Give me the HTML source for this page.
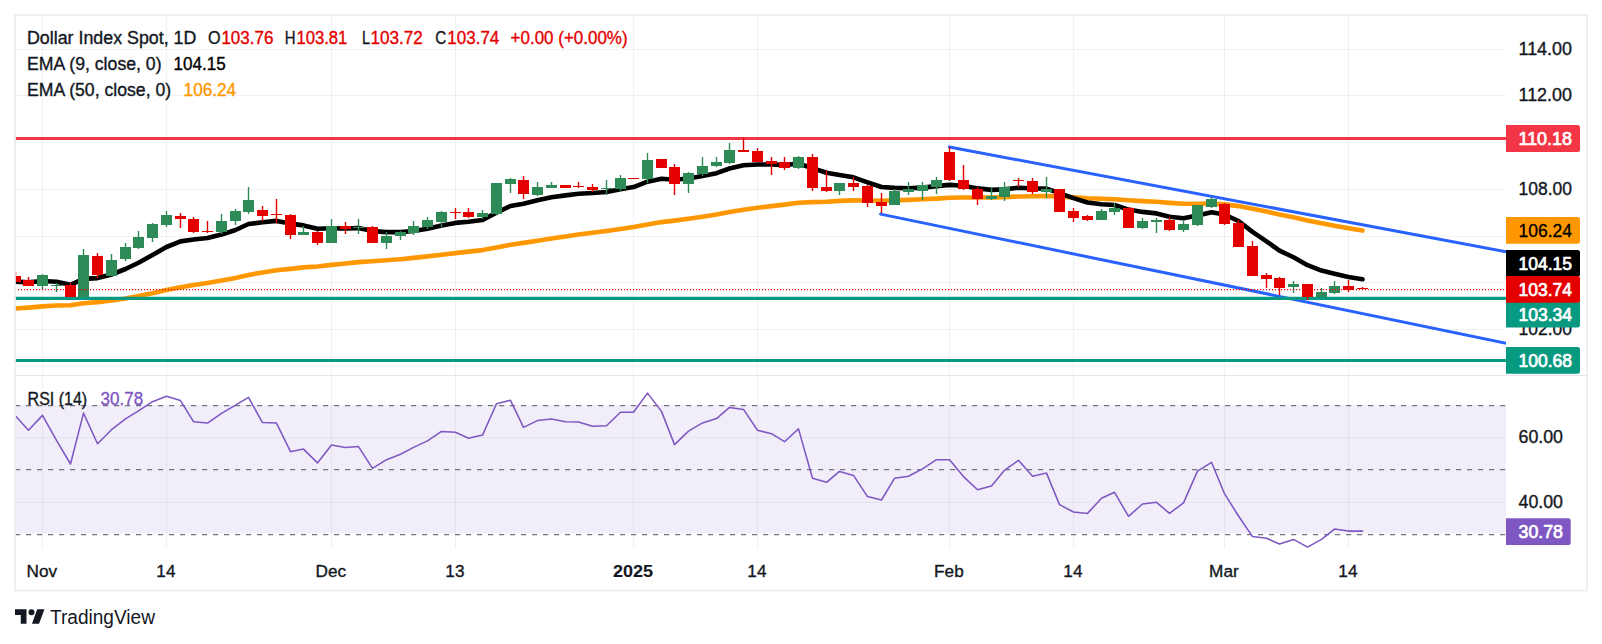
<!DOCTYPE html><html><head><meta charset="utf-8"><title>Dollar Index Spot</title>
<style>html,body{margin:0;padding:0;background:#fff}body{width:1602px;height:644px;overflow:hidden}svg{display:block}text{font-family:"Liberation Sans",sans-serif;font-size:17.5px;fill:#131722;stroke:#131722}.b{font-weight:bold}.lb{stroke-width:0.7px}text{stroke-width:0.35px;stroke-linejoin:round}</style></head><body>
<svg width="1602" height="644" viewBox="0 0 1602 644">
<defs><clipPath id="cp"><rect x="15" y="15" width="1491" height="533.5"/></clipPath><clipPath id="cp2"><rect x="15" y="15" width="1491" height="360"/></clipPath></defs>
<rect width="1602" height="644" fill="#fff"/>
<g stroke="#5a6e64" stroke-opacity="0.09" stroke-width="1">
<line x1="42.5" y1="15" x2="42.5" y2="548.5"/>
<line x1="166.5" y1="15" x2="166.5" y2="548.5"/>
<line x1="331.5" y1="15" x2="331.5" y2="548.5"/>
<line x1="455.5" y1="15" x2="455.5" y2="548.5"/>
<line x1="633.5" y1="15" x2="633.5" y2="548.5"/>
<line x1="757.5" y1="15" x2="757.5" y2="548.5"/>
<line x1="949.5" y1="15" x2="949.5" y2="548.5"/>
<line x1="1073.5" y1="15" x2="1073.5" y2="548.5"/>
<line x1="1224.5" y1="15" x2="1224.5" y2="548.5"/>
<line x1="1348.5" y1="15" x2="1348.5" y2="548.5"/>
<line x1="15" y1="49.5" x2="1506" y2="49.5"/>
<line x1="15" y1="95.5" x2="1506" y2="95.5"/>
<line x1="15" y1="142.5" x2="1506" y2="142.5"/>
<line x1="15" y1="189.5" x2="1506" y2="189.5"/>
<line x1="15" y1="236.5" x2="1506" y2="236.5"/>
<line x1="15" y1="282.5" x2="1506" y2="282.5"/>
<line x1="15" y1="329.5" x2="1506" y2="329.5"/>
<line x1="15" y1="437.5" x2="1506" y2="437.5"/>
<line x1="15" y1="502.5" x2="1506" y2="502.5"/>
</g>
<rect x="15" y="405" width="1491" height="128.6" fill="#7e57c2" fill-opacity="0.1"/>
<g stroke="#74767f" stroke-width="1.25" stroke-dasharray="5.2,5.8">
<line x1="15" y1="405.5" x2="1506" y2="405.5"/>
<line x1="15" y1="469.5" x2="1506" y2="469.5"/>
<line x1="15" y1="534.5" x2="1506" y2="534.5"/>
</g>
<g clip-path="url(#cp)">
<polyline points="1.5,309.6 15.5,308.5 28.5,307.6 42.5,306.4 56.5,305.5 70.5,305.2 83.5,303.2 97.5,302.1 111.5,300.5 125.5,298.4 138.5,296.0 152.5,293.2 166.5,290.1 180.5,287.3 193.5,285.1 207.5,283.0 221.5,280.6 235.5,277.9 248.5,274.9 262.5,272.5 276.5,270.3 290.5,268.9 303.5,267.4 317.5,266.5 331.5,264.9 345.5,263.5 358.5,262.1 372.5,261.3 386.5,260.3 400.5,259.2 413.5,257.9 427.5,256.4 441.5,254.7 455.5,253.1 468.5,251.6 482.5,250.1 496.5,247.5 510.5,244.8 523.5,242.9 537.5,240.7 551.5,238.5 565.5,236.5 578.5,234.5 592.5,232.8 606.5,231.0 620.5,229.0 633.5,227.0 647.5,224.4 661.5,222.1 674.5,220.6 688.5,218.8 702.5,216.7 716.5,214.5 729.5,212.0 743.5,209.7 757.5,207.8 771.5,206.1 784.5,204.6 798.5,202.7 812.5,202.1 826.5,201.7 839.5,200.9 853.5,200.4 867.5,200.5 881.5,200.7 894.5,200.3 908.5,199.9 922.5,199.3 936.5,198.6 949.5,197.8 963.5,197.5 977.5,197.5 991.5,197.5 1004.5,197.1 1018.5,196.5 1032.5,196.3 1046.5,196.0 1059.5,196.6 1073.5,197.4 1087.5,198.3 1101.5,198.8 1114.5,199.2 1128.5,200.3 1142.5,201.1 1156.5,201.8 1169.5,202.9 1183.5,203.8 1197.5,203.8 1211.5,203.6 1224.5,204.4 1238.5,206.1 1252.5,208.8 1266.5,211.6 1279.5,214.5 1293.5,217.3 1307.5,220.4 1321.5,223.2 1334.5,225.7 1348.5,228.2 1362.5,230.6" fill="none" stroke="#ff9800" stroke-width="4.6" stroke-linejoin="round" stroke-linecap="round"/>
<polyline points="1.5,281.5 15.5,281.6 28.5,282.4 42.5,281.0 56.5,281.7 70.5,284.8 83.5,278.9 97.5,278.1 111.5,274.5 125.5,269.0 138.5,262.7 152.5,255.0 166.5,247.0 180.5,241.4 193.5,239.5 207.5,238.0 221.5,234.6 235.5,230.0 248.5,224.0 262.5,222.3 276.5,220.9 290.5,223.6 303.5,225.4 317.5,228.8 331.5,228.3 345.5,228.5 358.5,228.1 372.5,231.1 386.5,232.1 400.5,232.1 413.5,231.0 427.5,228.8 441.5,225.5 455.5,222.9 468.5,221.7 482.5,220.0 496.5,212.6 510.5,206.0 523.5,203.7 537.5,200.3 551.5,197.2 565.5,195.4 578.5,193.7 592.5,193.0 606.5,192.0 620.5,189.2 633.5,187.1 647.5,181.7 661.5,178.8 674.5,179.8 688.5,178.5 702.5,176.0 716.5,173.2 729.5,168.5 743.5,165.2 757.5,164.5 771.5,164.4 784.5,165.1 798.5,163.5 812.5,168.3 826.5,172.8 839.5,174.9 853.5,177.3 867.5,182.3 881.5,187.0 894.5,187.9 908.5,188.2 922.5,187.6 936.5,186.1 949.5,184.9 963.5,185.8 977.5,188.4 991.5,189.9 1004.5,189.4 1018.5,187.7 1032.5,188.5 1046.5,188.6 1059.5,193.2 1073.5,198.1 1087.5,202.5 1101.5,204.3 1114.5,205.0 1128.5,209.6 1142.5,211.9 1156.5,213.4 1169.5,216.7 1183.5,218.2 1197.5,215.6 1211.5,212.2 1224.5,214.6 1238.5,221.0 1252.5,231.9 1266.5,241.3 1279.5,250.6 1293.5,257.3 1307.5,265.2 1321.5,270.6 1334.5,273.7 1348.5,276.9 1362.5,279.3" fill="none" stroke="#000" stroke-width="4.6" stroke-linejoin="round" stroke-linecap="round"/>
</g>
<g clip-path="url(#cp2)" stroke="#2962ff" stroke-width="3" stroke-linecap="round">
<line x1="949.3" y1="147" x2="1516" y2="253.68"/>
<line x1="880.6" y1="214.1" x2="1516" y2="345.26"/>
</g>
<line x1="15" y1="138.5" x2="1506" y2="138.5" stroke="#f23645" stroke-width="3"/>
<line x1="15" y1="298.4" x2="1506" y2="298.4" stroke="#089981" stroke-width="3.1"/>
<line x1="15" y1="360.4" x2="1506" y2="360.4" stroke="#089981" stroke-width="3"/>
<g clip-path="url(#cp)">
<rect x="14.80" y="272" width="1.4" height="10" fill="#e50000"/>
<rect x="10" y="276" width="11" height="6" fill="#e50000"/>
<rect x="27.80" y="277" width="1.4" height="9" fill="#e50000"/>
<rect x="23" y="280" width="11" height="6" fill="#e50000"/>
<rect x="41.80" y="274" width="1.4" height="15" fill="#2e8b57"/>
<rect x="37" y="275" width="11" height="11" fill="#2e8b57"/>
<rect x="55.80" y="283" width="1.4" height="9" fill="#2e8b57"/>
<rect x="51" y="285" width="11" height="1" fill="#2e8b57"/>
<rect x="69.80" y="283" width="1.4" height="14" fill="#e50000"/>
<rect x="65" y="285" width="11" height="12" fill="#e50000"/>
<rect x="82.80" y="249" width="1.4" height="48" fill="#2e8b57"/>
<rect x="78" y="255" width="11" height="42" fill="#2e8b57"/>
<rect x="96.80" y="253" width="1.4" height="25" fill="#e50000"/>
<rect x="92" y="256" width="11" height="19" fill="#e50000"/>
<rect x="110.80" y="254" width="1.4" height="22" fill="#2e8b57"/>
<rect x="106" y="260" width="11" height="16" fill="#2e8b57"/>
<rect x="124.80" y="243" width="1.4" height="18" fill="#2e8b57"/>
<rect x="120" y="247" width="11" height="12" fill="#2e8b57"/>
<rect x="137.80" y="231" width="1.4" height="18" fill="#2e8b57"/>
<rect x="133" y="237" width="11" height="11" fill="#2e8b57"/>
<rect x="151.80" y="223" width="1.4" height="19" fill="#2e8b57"/>
<rect x="147" y="224" width="11" height="14" fill="#2e8b57"/>
<rect x="165.80" y="211" width="1.4" height="16" fill="#2e8b57"/>
<rect x="161" y="215" width="11" height="10" fill="#2e8b57"/>
<rect x="179.80" y="213" width="1.4" height="15" fill="#e50000"/>
<rect x="175" y="216" width="11" height="3" fill="#e50000"/>
<rect x="192.80" y="217" width="1.4" height="16" fill="#e50000"/>
<rect x="188" y="219" width="11" height="13" fill="#e50000"/>
<rect x="206.80" y="221" width="1.4" height="12" fill="#e50000"/>
<rect x="202" y="231" width="11" height="1" fill="#e50000"/>
<rect x="220.80" y="214" width="1.4" height="20" fill="#2e8b57"/>
<rect x="216" y="221" width="11" height="11" fill="#2e8b57"/>
<rect x="234.80" y="209" width="1.4" height="16" fill="#2e8b57"/>
<rect x="230" y="211" width="11" height="10" fill="#2e8b57"/>
<rect x="247.80" y="187" width="1.4" height="27" fill="#2e8b57"/>
<rect x="243" y="200" width="11" height="12" fill="#2e8b57"/>
<rect x="261.80" y="206" width="1.4" height="15" fill="#e50000"/>
<rect x="257" y="210" width="11" height="6" fill="#e50000"/>
<rect x="275.80" y="199" width="1.4" height="24" fill="#e50000"/>
<rect x="271" y="214" width="11" height="1" fill="#e50000"/>
<rect x="289.80" y="214" width="1.4" height="25" fill="#e50000"/>
<rect x="285" y="215" width="11" height="20" fill="#e50000"/>
<rect x="302.80" y="226" width="1.4" height="9" fill="#2e8b57"/>
<rect x="298" y="232" width="11" height="3" fill="#2e8b57"/>
<rect x="316.80" y="231" width="1.4" height="14" fill="#e50000"/>
<rect x="312" y="232" width="11" height="11" fill="#e50000"/>
<rect x="330.80" y="219" width="1.4" height="24" fill="#2e8b57"/>
<rect x="326" y="226" width="11" height="17" fill="#2e8b57"/>
<rect x="344.80" y="222" width="1.4" height="12" fill="#e50000"/>
<rect x="340" y="226" width="11" height="3" fill="#e50000"/>
<rect x="357.80" y="219" width="1.4" height="15" fill="#2e8b57"/>
<rect x="353" y="227" width="11" height="1" fill="#2e8b57"/>
<rect x="371.80" y="226" width="1.4" height="17" fill="#e50000"/>
<rect x="367" y="227" width="11" height="16" fill="#e50000"/>
<rect x="385.80" y="232" width="1.4" height="17" fill="#2e8b57"/>
<rect x="381" y="236" width="11" height="7" fill="#2e8b57"/>
<rect x="399.80" y="231" width="1.4" height="9" fill="#2e8b57"/>
<rect x="395" y="232" width="11" height="4" fill="#2e8b57"/>
<rect x="412.80" y="221" width="1.4" height="14" fill="#2e8b57"/>
<rect x="408" y="226" width="11" height="7" fill="#2e8b57"/>
<rect x="426.80" y="217" width="1.4" height="12" fill="#2e8b57"/>
<rect x="422" y="220" width="11" height="7" fill="#2e8b57"/>
<rect x="440.80" y="211" width="1.4" height="16" fill="#2e8b57"/>
<rect x="436" y="212" width="11" height="10" fill="#2e8b57"/>
<rect x="454.80" y="208" width="1.4" height="11" fill="#e50000"/>
<rect x="450" y="212" width="11" height="1" fill="#e50000"/>
<rect x="467.80" y="208" width="1.4" height="10" fill="#e50000"/>
<rect x="463" y="212" width="11" height="5" fill="#e50000"/>
<rect x="481.80" y="210" width="1.4" height="9" fill="#2e8b57"/>
<rect x="477" y="213" width="11" height="4" fill="#2e8b57"/>
<rect x="495.80" y="183" width="1.4" height="32" fill="#2e8b57"/>
<rect x="491" y="183" width="11" height="31" fill="#2e8b57"/>
<rect x="509.80" y="178" width="1.4" height="15" fill="#2e8b57"/>
<rect x="505" y="179" width="11" height="5" fill="#2e8b57"/>
<rect x="522.80" y="176" width="1.4" height="23" fill="#e50000"/>
<rect x="518" y="180" width="11" height="14" fill="#e50000"/>
<rect x="536.80" y="182" width="1.4" height="14" fill="#2e8b57"/>
<rect x="532" y="187" width="11" height="8" fill="#2e8b57"/>
<rect x="550.80" y="182" width="1.4" height="6" fill="#2e8b57"/>
<rect x="546" y="185" width="11" height="3" fill="#2e8b57"/>
<rect x="564.80" y="185" width="1.4" height="3" fill="#e50000"/>
<rect x="560" y="185" width="11" height="3" fill="#e50000"/>
<rect x="577.80" y="182" width="1.4" height="6" fill="#e50000"/>
<rect x="573" y="186" width="11" height="1" fill="#e50000"/>
<rect x="591.80" y="184" width="1.4" height="8" fill="#e50000"/>
<rect x="587" y="187" width="11" height="3" fill="#e50000"/>
<rect x="605.80" y="180" width="1.4" height="15" fill="#2e8b57"/>
<rect x="601" y="188" width="11" height="1" fill="#2e8b57"/>
<rect x="619.80" y="175" width="1.4" height="17" fill="#2e8b57"/>
<rect x="615" y="178" width="11" height="11" fill="#2e8b57"/>
<rect x="632.80" y="178" width="1.4" height="1" fill="#e50000"/>
<rect x="628" y="178" width="11" height="1" fill="#e50000"/>
<rect x="646.80" y="153" width="1.4" height="30" fill="#2e8b57"/>
<rect x="642" y="160" width="11" height="19" fill="#2e8b57"/>
<rect x="660.80" y="159" width="1.4" height="9" fill="#e50000"/>
<rect x="656" y="159" width="11" height="9" fill="#e50000"/>
<rect x="673.80" y="164" width="1.4" height="31" fill="#e50000"/>
<rect x="669" y="167" width="11" height="17" fill="#e50000"/>
<rect x="687.80" y="172" width="1.4" height="21" fill="#2e8b57"/>
<rect x="683" y="173" width="11" height="11" fill="#2e8b57"/>
<rect x="701.80" y="157" width="1.4" height="19" fill="#2e8b57"/>
<rect x="697" y="166" width="11" height="8" fill="#2e8b57"/>
<rect x="715.80" y="157" width="1.4" height="10" fill="#2e8b57"/>
<rect x="711" y="162" width="11" height="4" fill="#2e8b57"/>
<rect x="728.80" y="143" width="1.4" height="21" fill="#2e8b57"/>
<rect x="724" y="150" width="11" height="13" fill="#2e8b57"/>
<rect x="742.80" y="138" width="1.4" height="14" fill="#e50000"/>
<rect x="738" y="150" width="11" height="2" fill="#e50000"/>
<rect x="756.80" y="148" width="1.4" height="14" fill="#e50000"/>
<rect x="752" y="151" width="11" height="11" fill="#e50000"/>
<rect x="770.80" y="157" width="1.4" height="18" fill="#e50000"/>
<rect x="766" y="161" width="11" height="3" fill="#e50000"/>
<rect x="783.80" y="157" width="1.4" height="13" fill="#e50000"/>
<rect x="779" y="162" width="11" height="6" fill="#e50000"/>
<rect x="797.80" y="156" width="1.4" height="13" fill="#2e8b57"/>
<rect x="793" y="157" width="11" height="11" fill="#2e8b57"/>
<rect x="811.80" y="154" width="1.4" height="37" fill="#e50000"/>
<rect x="807" y="157" width="11" height="31" fill="#e50000"/>
<rect x="825.80" y="170" width="1.4" height="22" fill="#e50000"/>
<rect x="821" y="187" width="11" height="4" fill="#e50000"/>
<rect x="838.80" y="183" width="1.4" height="12" fill="#2e8b57"/>
<rect x="834" y="183" width="11" height="8" fill="#2e8b57"/>
<rect x="852.80" y="177" width="1.4" height="14" fill="#e50000"/>
<rect x="848" y="183" width="11" height="4" fill="#e50000"/>
<rect x="866.80" y="185" width="1.4" height="22" fill="#e50000"/>
<rect x="862" y="186" width="11" height="17" fill="#e50000"/>
<rect x="880.80" y="193" width="1.4" height="20" fill="#e50000"/>
<rect x="876" y="202" width="11" height="4" fill="#e50000"/>
<rect x="893.80" y="189" width="1.4" height="16" fill="#2e8b57"/>
<rect x="889" y="191" width="11" height="14" fill="#2e8b57"/>
<rect x="907.80" y="182" width="1.4" height="13" fill="#2e8b57"/>
<rect x="903" y="189" width="11" height="3" fill="#2e8b57"/>
<rect x="921.80" y="182" width="1.4" height="18" fill="#2e8b57"/>
<rect x="917" y="185" width="11" height="6" fill="#2e8b57"/>
<rect x="935.80" y="177" width="1.4" height="17" fill="#2e8b57"/>
<rect x="931" y="180" width="11" height="7" fill="#2e8b57"/>
<rect x="948.80" y="147" width="1.4" height="34" fill="#e50000"/>
<rect x="944" y="152" width="11" height="28" fill="#e50000"/>
<rect x="962.80" y="165" width="1.4" height="25" fill="#e50000"/>
<rect x="958" y="180" width="11" height="9" fill="#e50000"/>
<rect x="976.80" y="187" width="1.4" height="18" fill="#e50000"/>
<rect x="972" y="189" width="11" height="10" fill="#e50000"/>
<rect x="990.80" y="187" width="1.4" height="13" fill="#2e8b57"/>
<rect x="986" y="196" width="11" height="3" fill="#2e8b57"/>
<rect x="1003.80" y="182" width="1.4" height="19" fill="#2e8b57"/>
<rect x="999" y="187" width="11" height="10" fill="#2e8b57"/>
<rect x="1017.80" y="178" width="1.4" height="9" fill="#e50000"/>
<rect x="1013" y="180" width="11" height="1" fill="#e50000"/>
<rect x="1031.80" y="178" width="1.4" height="16" fill="#e50000"/>
<rect x="1027" y="181" width="11" height="11" fill="#e50000"/>
<rect x="1045.80" y="177" width="1.4" height="21" fill="#2e8b57"/>
<rect x="1041" y="189" width="11" height="3" fill="#2e8b57"/>
<rect x="1058.80" y="189" width="1.4" height="23" fill="#e50000"/>
<rect x="1054" y="189" width="11" height="23" fill="#e50000"/>
<rect x="1072.80" y="208" width="1.4" height="14" fill="#e50000"/>
<rect x="1068" y="211" width="11" height="7" fill="#e50000"/>
<rect x="1086.80" y="215" width="1.4" height="6" fill="#e50000"/>
<rect x="1082" y="216" width="11" height="4" fill="#e50000"/>
<rect x="1100.80" y="209" width="1.4" height="11" fill="#2e8b57"/>
<rect x="1096" y="211" width="11" height="9" fill="#2e8b57"/>
<rect x="1113.80" y="203" width="1.4" height="12" fill="#2e8b57"/>
<rect x="1109" y="208" width="11" height="4" fill="#2e8b57"/>
<rect x="1127.80" y="207" width="1.4" height="21" fill="#e50000"/>
<rect x="1123" y="208" width="11" height="20" fill="#e50000"/>
<rect x="1141.80" y="218" width="1.4" height="11" fill="#2e8b57"/>
<rect x="1137" y="221" width="11" height="7" fill="#2e8b57"/>
<rect x="1155.80" y="218" width="1.4" height="15" fill="#2e8b57"/>
<rect x="1151" y="220" width="11" height="2" fill="#2e8b57"/>
<rect x="1168.80" y="217" width="1.4" height="14" fill="#e50000"/>
<rect x="1164" y="220" width="11" height="10" fill="#e50000"/>
<rect x="1182.80" y="220" width="1.4" height="12" fill="#2e8b57"/>
<rect x="1178" y="224" width="11" height="6" fill="#2e8b57"/>
<rect x="1196.80" y="205" width="1.4" height="21" fill="#2e8b57"/>
<rect x="1192" y="205" width="11" height="20" fill="#2e8b57"/>
<rect x="1210.80" y="197" width="1.4" height="11" fill="#2e8b57"/>
<rect x="1206" y="199" width="11" height="8" fill="#2e8b57"/>
<rect x="1223.80" y="203" width="1.4" height="22" fill="#e50000"/>
<rect x="1219" y="204" width="11" height="20" fill="#e50000"/>
<rect x="1237.80" y="220" width="1.4" height="27" fill="#e50000"/>
<rect x="1233" y="223" width="11" height="24" fill="#e50000"/>
<rect x="1251.80" y="241" width="1.4" height="35" fill="#e50000"/>
<rect x="1247" y="246" width="11" height="30" fill="#e50000"/>
<rect x="1265.80" y="273" width="1.4" height="15" fill="#e50000"/>
<rect x="1261" y="275" width="11" height="4" fill="#e50000"/>
<rect x="1278.80" y="277" width="1.4" height="18" fill="#e50000"/>
<rect x="1274" y="278" width="11" height="10" fill="#e50000"/>
<rect x="1292.80" y="281" width="1.4" height="12" fill="#2e8b57"/>
<rect x="1288" y="284" width="11" height="3" fill="#2e8b57"/>
<rect x="1306.80" y="284" width="1.4" height="16" fill="#e50000"/>
<rect x="1302" y="284" width="11" height="13" fill="#e50000"/>
<rect x="1320.80" y="288" width="1.4" height="9" fill="#2e8b57"/>
<rect x="1316" y="292" width="11" height="5" fill="#2e8b57"/>
<rect x="1333.80" y="281" width="1.4" height="13" fill="#2e8b57"/>
<rect x="1329" y="286" width="11" height="7" fill="#2e8b57"/>
<rect x="1347.80" y="280" width="1.4" height="12" fill="#e50000"/>
<rect x="1343" y="286" width="11" height="4" fill="#e50000"/>
<rect x="1361.80" y="287" width="1.4" height="2" fill="#e50000"/>
<rect x="1357" y="288" width="11" height="1" fill="#e50000"/>
<polyline points="15.5,416.0 28.5,430.3 42.5,415.4 56.5,440.3 70.5,464.0 83.5,413.1 97.5,443.7 111.5,429.7 125.5,418.9 138.5,410.9 152.5,401.7 166.5,396.3 180.5,400.6 193.5,421.7 207.5,423.1 221.5,413.4 235.5,405.1 248.5,397.4 262.5,422.6 276.5,423.1 290.5,451.7 303.5,449.1 317.5,462.9 331.5,445.1 345.5,447.4 358.5,446.6 372.5,468.3 386.5,459.7 400.5,454.3 413.5,447.4 427.5,440.9 441.5,431.4 455.5,432.3 468.5,438.3 482.5,435.1 496.5,403.7 510.5,400.3 523.5,427.4 537.5,420.6 551.5,418.9 565.5,421.7 578.5,422.0 592.5,426.3 606.5,425.7 620.5,412.3 633.5,412.3 647.5,393.1 661.5,411.4 674.5,444.6 688.5,431.1 702.5,422.9 716.5,418.6 729.5,407.4 743.5,409.4 757.5,430.3 771.5,433.7 784.5,441.7 798.5,428.9 812.5,478.3 826.5,482.3 839.5,471.4 853.5,475.4 867.5,496.6 881.5,500.0 894.5,478.3 908.5,476.3 922.5,468.9 936.5,459.7 949.5,459.7 963.5,476.6 977.5,489.7 991.5,486.0 1004.5,470.3 1018.5,460.3 1032.5,476.3 1046.5,473.1 1059.5,504.6 1073.5,512.0 1087.5,513.4 1101.5,498.3 1114.5,492.3 1128.5,516.3 1142.5,504.0 1156.5,502.3 1169.5,513.4 1183.5,502.9 1197.5,471.1 1211.5,462.3 1224.5,493.7 1238.5,516.0 1252.5,536.6 1266.5,538.3 1279.5,544.0 1293.5,539.4 1307.5,547.1 1321.5,539.4 1334.5,529.1 1348.5,531.1 1362.5,531.1" fill="none" stroke="#7e57c2" stroke-width="1.55" stroke-linejoin="round" stroke-linecap="round"/>
</g>
<line x1="14.9" y1="289.5" x2="1506" y2="289.5" stroke="#e50000" stroke-width="1.25" stroke-dasharray="1.2,1.8" clip-path="url(#cp2)"/>
<line x1="15" y1="375.5" x2="1587" y2="375.5" stroke="#e4e7ee" stroke-width="1.1"/>
<rect x="15" y="15" width="1572" height="575.5" fill="none" stroke="#ebedf3" stroke-width="1.7"/>
<text x="1518.5" y="55.3" textLength="53.5" lengthAdjust="spacingAndGlyphs">114.00</text>
<text x="1518.5" y="101.3" textLength="53.5" lengthAdjust="spacingAndGlyphs">112.00</text>
<text x="1518.5" y="195.3" textLength="53.5" lengthAdjust="spacingAndGlyphs">108.00</text>
<text x="1518.5" y="335.3" textLength="53.5" lengthAdjust="spacingAndGlyphs">102.00</text>
<text x="1518.5" y="443.3" textLength="44.5" lengthAdjust="spacingAndGlyphs">60.00</text>
<text x="1518.5" y="508.3" textLength="44.5" lengthAdjust="spacingAndGlyphs">40.00</text>
<path d="M1506,125.0 H1577.5 a2.5,2.5 0 0 1 2.5,2.5 V149.4 a2.5,2.5 0 0 1 -2.5,2.5 H1506 Z" fill="#f23645"/>
<text x="1518.5" y="144.8" textLength="53.5" lengthAdjust="spacingAndGlyphs" style="fill:#fff;stroke:#fff;stroke-width:0.7px">110.18</text>
<path d="M1506,217.0 H1577.5 a2.5,2.5 0 0 1 2.5,2.5 V241.3 a2.5,2.5 0 0 1 -2.5,2.5 H1506 Z" fill="#ff9800"/>
<text x="1518.5" y="236.7" textLength="53.5" lengthAdjust="spacingAndGlyphs" style="fill:#000;stroke:#000;stroke-width:0.3px">106.24</text>
<path d="M1506,250.0 H1577.5 a2.5,2.5 0 0 1 2.5,2.5 V274.3 a2.5,2.5 0 0 1 -2.5,2.5 H1506 Z" fill="#000"/>
<text x="1518.5" y="269.7" textLength="53.5" lengthAdjust="spacingAndGlyphs" style="fill:#fff;stroke:#fff;stroke-width:0.7px">104.15</text>
<path d="M1506,300.8 H1577.5 a2.5,2.5 0 0 1 2.5,2.5 V325.1 a2.5,2.5 0 0 1 -2.5,2.5 H1506 Z" fill="#089981"/>
<text x="1518.5" y="320.5" textLength="53.5" lengthAdjust="spacingAndGlyphs" style="fill:#fff;stroke:#fff;stroke-width:0.7px">103.34</text>
<path d="M1506,276.1 H1577.5 a2.5,2.5 0 0 1 2.5,2.5 V300.2 a2.5,2.5 0 0 1 -2.5,2.5 H1506 Z" fill="#e50000"/>
<text x="1518.5" y="295.7" textLength="53.5" lengthAdjust="spacingAndGlyphs" style="fill:#fff;stroke:#fff;stroke-width:0.7px">103.74</text>
<path d="M1506,347.1 H1577.5 a2.5,2.5 0 0 1 2.5,2.5 V371.3 a2.5,2.5 0 0 1 -2.5,2.5 H1506 Z" fill="#089981"/>
<text x="1518.5" y="366.8" textLength="53.5" lengthAdjust="spacingAndGlyphs" style="fill:#fff;stroke:#fff;stroke-width:0.7px">100.68</text>
<path d="M1506,518.2 H1568.2 a2.5,2.5 0 0 1 2.5,2.5 V542.4 a2.5,2.5 0 0 1 -2.5,2.5 H1506 Z" fill="#7e57c2"/>
<text x="1518.5" y="537.8" textLength="44.5" lengthAdjust="spacingAndGlyphs" style="fill:#fff;stroke:#fff;stroke-width:0.7px">30.78</text>
<text x="41.9" y="577" text-anchor="middle" style="font-size:17.2px">Nov</text>
<text x="165.9" y="577" text-anchor="middle" style="font-size:17.2px">14</text>
<text x="330.9" y="577" text-anchor="middle" style="font-size:17.2px">Dec</text>
<text x="454.9" y="577" text-anchor="middle" style="font-size:17.2px">13</text>
<text x="632.9" y="577" text-anchor="middle" style="font-size:17.2px;stroke-width:0.1px" class="b" textLength="40" lengthAdjust="spacingAndGlyphs">2025</text>
<text x="756.9" y="577" text-anchor="middle" style="font-size:17.2px">14</text>
<text x="948.9" y="577" text-anchor="middle" style="font-size:17.2px">Feb</text>
<text x="1072.9" y="577" text-anchor="middle" style="font-size:17.2px">14</text>
<text x="1223.9" y="577" text-anchor="middle" style="font-size:17.2px">Mar</text>
<text x="1347.9" y="577" text-anchor="middle" style="font-size:17.2px">14</text>
<text x="27" y="44.2" textLength="169.4" lengthAdjust="spacingAndGlyphs">Dollar Index Spot, 1D</text>
<text x="208" y="44.2" textLength="12.6" lengthAdjust="spacingAndGlyphs">O</text>
<text x="221.4" y="44.2" textLength="52" lengthAdjust="spacingAndGlyphs" style="fill:#e50000;stroke:#e50000">103.76</text>
<text x="284.8" y="44.2" textLength="10.8" lengthAdjust="spacingAndGlyphs">H</text>
<text x="296.4" y="44.2" textLength="51" lengthAdjust="spacingAndGlyphs" style="fill:#e50000;stroke:#e50000">103.81</text>
<text x="362" y="44.2" textLength="8" lengthAdjust="spacingAndGlyphs">L</text>
<text x="370.4" y="44.2" textLength="52.5" lengthAdjust="spacingAndGlyphs" style="fill:#e50000;stroke:#e50000">103.72</text>
<text x="435.3" y="44.2" textLength="11" lengthAdjust="spacingAndGlyphs">C</text>
<text x="447.3" y="44.2" textLength="52" lengthAdjust="spacingAndGlyphs" style="fill:#e50000;stroke:#e50000">103.74</text>
<text x="510.6" y="44.2" textLength="117" lengthAdjust="spacingAndGlyphs" style="fill:#e50000;stroke:#e50000">+0.00 (+0.00%)</text>
<text x="27" y="69.8" textLength="134.6" lengthAdjust="spacingAndGlyphs">EMA (9, close, 0)</text>
<text x="173.6" y="69.8" textLength="52.1" lengthAdjust="spacingAndGlyphs" style="fill:#000;stroke:#000">104.15</text>
<text x="27" y="95.8" textLength="144.2" lengthAdjust="spacingAndGlyphs">EMA (50, close, 0)</text>
<text x="183.6" y="95.8" textLength="52.5" lengthAdjust="spacingAndGlyphs" style="fill:#ff9800;stroke:#ff9800">106.24</text>
<text x="27.6" y="405.2" textLength="59.5" lengthAdjust="spacingAndGlyphs">RSI (14)</text>
<text x="100.6" y="405.2" textLength="42.6" lengthAdjust="spacingAndGlyphs" style="fill:#7e57c2;stroke:#7e57c2">30.78</text>
<g fill="#131722"><path d="M15,609.2 H26.5 V623.8 H20.8 V615 H15 Z"/><circle cx="31.5" cy="612.2" r="3"/><path d="M37.2,609.2 H44.5 L39,623.8 H32 Z"/></g>
<text x="50" y="624.3" textLength="105" lengthAdjust="spacingAndGlyphs" style="font-size:19.3px;stroke:none">TradingView</text>
</svg></body></html>
